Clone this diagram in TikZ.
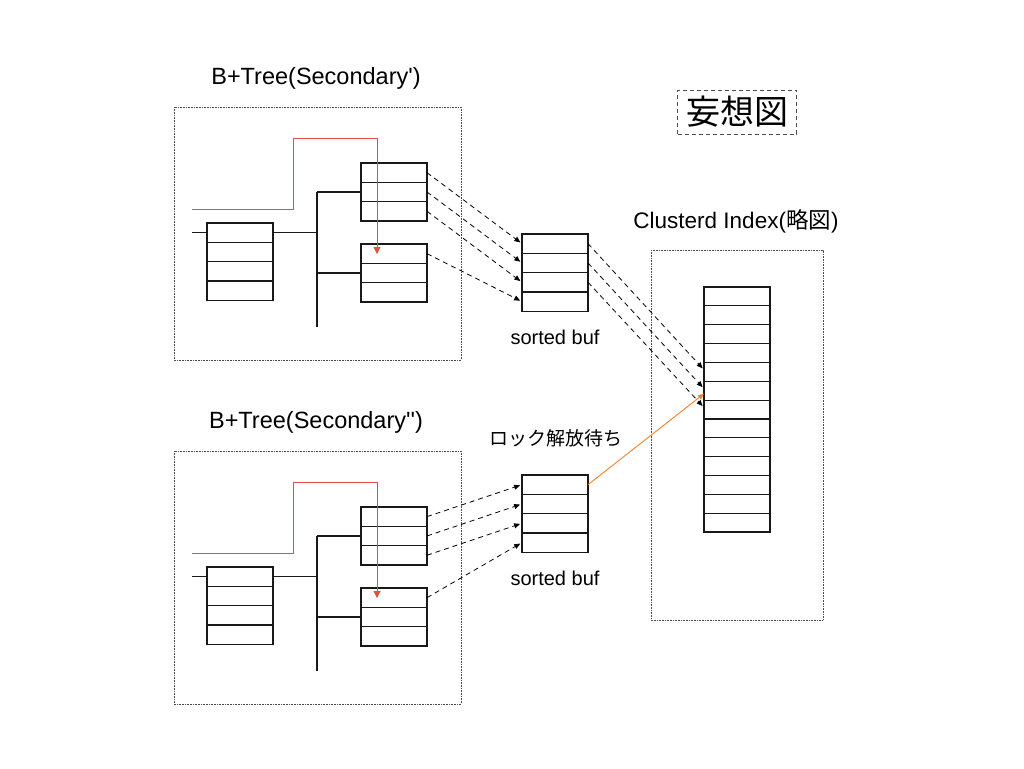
\documentclass[tikz,border=0pt]{standalone}
\usepackage{fontspec}
\setmainfont{Liberation Sans}
\newfontfamily\jp{Noto Sans CJK JP}
\usetikzlibrary{arrows.meta}
\tikzset{every node/.style={font=\fontsize{19}{22}\selectfont}}

% Stack of equal rows: name, left x, top y, rows, row height.
\newcommand{\cellstack}[5]{%
  \foreach \k in {1,...,#4}
    \node[cell, minimum height=#5pt] (#1-\k) at (#2, {#3+(\k-1)*#5}) {};
}

\begin{document}
\begin{tikzpicture}[x=1pt, y=-1pt, >={Triangle[length=6pt, width=5pt]}]
  % Bounding box fixe (taille originale)
  \path[use as bounding box] (0,0) rectangle (1024,768);

  % Colors.
  \colorlet{linecol}{black!90}
  \colorlet{framecol}{black!70}
  \definecolor{seekcol}{RGB}{228,78,58}
  \definecolor{waitcol}{RGB}{240,128,40}

  \tikzset{
    cell/.style={draw=linecol, line width=1.2pt, minimum width=66pt,
      inner sep=0pt, outer sep=0pt, anchor=north west},
    frame/.style={draw=framecol, line width=0.8pt, dash pattern=on 0.8pt off 0.8pt},
    link/.style={linecol, line width=1.2pt},
    seek/.style={-{Triangle[length=7pt, width=7pt]}, seekcol, line width=0.9pt},
    flush/.style={->, black, line width=0.8pt, dash pattern=on 5pt off 4pt, shorten >=2pt},
    wait/.style={->, waitcol, line width=0.9pt},
    title/.style={font=\fontsize{23.5}{26}\selectfont},
  }

  % Sorted buffers.
  \cellstack{bufa}{522}{234}{4}{19.3}
  \cellstack{bufb}{522}{475}{4}{19.3}
  \node[font=\fontsize{20}{23}\selectfont] (sorta) at (555,337) {sorted buf};
  \node[font=\fontsize{20}{23}\selectfont] (sortb) at (555,578) {sorted buf};
  \node (lockwait) at (556,438) {\jp ロック解放待ち};

  % Secondary trees.
  \node[title] (titlea) at (316,78) {B+Tree(Secondary\textquotesingle)};
  \node[title] (titleb) at (316,422) {B+Tree(Secondary\textquotesingle\textquotesingle)};
  \foreach \t/\dy in {a/0, b/344}{
    \begin{scope}[yshift=-\dy pt]
      \draw[frame] (174,107) rectangle (461,360);
      \cellstack{\t-root}{207}{223}{4}{19.3}
      \cellstack{\t-leafa}{361}{163}{3}{19.3}
      \cellstack{\t-leafb}{361}{244}{3}{19.3}

      % Tree edges.
      \coordinate (\t-in) at (192,234);
      \coordinate (\t-spine) at (317,234);
      \coordinate (\t-bot) at (317,327);
      \draw[link] (\t-in |- \t-root-1.west) -- (\t-root-1.west);
      \draw[link] (\t-root-1.east) -- (\t-spine |- \t-root-1.east);
      \draw[link] (\t-spine |- \t-leafa-2.west) -- (\t-bot);
      \draw[link] (\t-spine |- \t-leafa-2.west) -- (\t-leafa-2.west);
      \draw[link] (\t-spine |- \t-leafb-2.west) -- (\t-leafb-2.west);

      % Search path.
      \coordinate (\t-start) at (192,209);
      \coordinate (\t-seek) at (377,254);
      \draw[seek] (\t-start) -| (293,138) -| (\t-seek);
    \end{scope}

    % Leaves to buffer.
    \foreach \i in {1,2,3}
      \draw[flush] (\t-leafa-\i.east) -- (buf\t-\i.west);
    \draw[flush] (\t-leafb-1.east) -- (buf\t-4.west);
  }

  % Clustered index.
  \draw[frame] (651,250) rectangle (823,620);
  \node (cltitle) at (736,221) {\fontsize{22.5}{25}\selectfont Clusterd Index({\jp 略図})};
  \cellstack{idx}{704}{287}{13}{18.85}
  \foreach \i/\j in {1/5, 2/6, 3/7}
    \draw[flush] (bufa-\i.east) -- ([yshift=2pt]idx-\j.west);
  \draw[wait] (bufb-1.east) -- ([yshift=-3pt]idx-6.west);

  % Note.
  \node[draw=framecol, line width=0.9pt, dash pattern=on 4pt off 3pt,
    minimum width=119pt, minimum height=44pt, inner sep=0pt,
    font=\jp\fontsize{34}{38}\selectfont] (note) at (737,112) {妄想図};
\end{tikzpicture}
\end{document}
